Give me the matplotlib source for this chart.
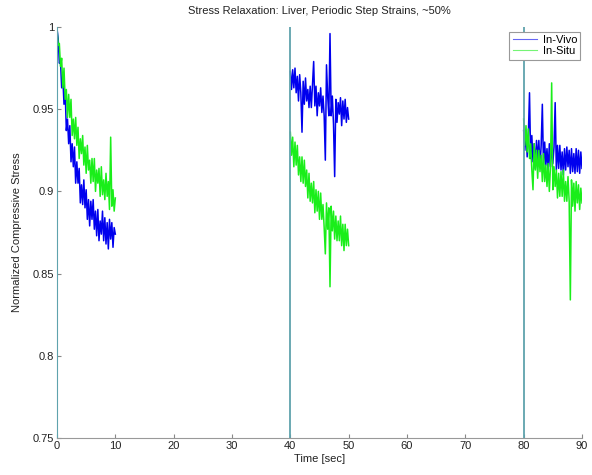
import matplotlib
matplotlib.use("Agg")
import matplotlib.pyplot as plt
import numpy as np

plt.rcParams["font.family"] = ["Liberation Sans", "DejaVu Sans"]
plt.rcParams["font.size"] = 8

DT = 0.2

# Step 1 (0-10 s)
vivo_1 = [0.999, 0.993, 0.978, 0.979, 0.963, 0.969, 0.953, 0.961, 0.937, 0.944,
          0.929, 0.940, 0.918, 0.929, 0.915, 0.927, 0.905, 0.918, 0.905, 0.914,
          0.893, 0.904, 0.892, 0.907, 0.890, 0.901, 0.883, 0.895, 0.879, 0.894,
          0.883, 0.895, 0.877, 0.888, 0.873, 0.889, 0.870, 0.882, 0.874, 0.888,
          0.870, 0.884, 0.868, 0.881, 0.865, 0.883, 0.871, 0.881, 0.866, 0.878,
          0.874]
situ_1 = [0.999, 0.989, 0.990, 0.976, 0.981, 0.963, 0.975, 0.956, 0.962, 0.945,
          0.959, 0.945, 0.956, 0.934, 0.944, 0.932, 0.945, 0.928, 0.939, 0.920,
          0.932, 0.923, 0.934, 0.916, 0.927, 0.911, 0.928, 0.913, 0.919, 0.905,
          0.920, 0.906, 0.920, 0.900, 0.913, 0.905, 0.914, 0.897, 0.915, 0.898,
          0.907, 0.895, 0.911, 0.897, 0.906, 0.889, 0.933, 0.891, 0.901, 0.888,
          0.896]

# Step 2 (40-50 s)
vivo_2 = [0.973, 0.962, 0.974, 0.963, 0.975, 0.960, 0.970, 0.955, 0.971, 0.960,
          0.936, 0.967, 0.953, 0.969, 0.955, 0.962, 0.951, 0.964, 0.951, 0.965,
          0.979, 0.952, 0.964, 0.946, 0.960, 0.952, 0.963, 0.948, 0.958, 0.946,
          0.919, 0.977, 0.958, 0.946, 0.996, 0.946, 0.958, 0.941, 0.909, 0.956,
          0.942, 0.954, 0.947, 0.957, 0.940, 0.955, 0.944, 0.956, 0.942, 0.951,
          0.944]
situ_2 = [0.936, 0.922, 0.933, 0.915, 0.930, 0.916, 0.928, 0.910, 0.921, 0.906,
          0.921, 0.905, 0.919, 0.903, 0.913, 0.896, 0.911, 0.894, 0.905, 0.893,
          0.906, 0.887, 0.901, 0.888, 0.900, 0.883, 0.899, 0.883, 0.892, 0.878,
          0.862, 0.893, 0.877, 0.890, 0.842, 0.891, 0.876, 0.888, 0.871, 0.885,
          0.870, 0.882, 0.870, 0.885, 0.867, 0.880, 0.864, 0.880, 0.867, 0.877,
          0.867]

# Step 3 (80-90 s)
vivo_3 = [0.937, 0.925, 0.937, 0.921, 0.934, 0.960, 0.920, 0.934, 0.918, 0.929,
          0.914, 0.931, 0.919, 0.931, 0.915, 0.928, 0.953, 0.915, 0.930, 0.916,
          0.926, 0.912, 0.929, 0.915, 0.930, 0.917, 0.927, 0.954, 0.913, 0.928,
          0.914, 0.928, 0.913, 0.924, 0.910, 0.926, 0.913, 0.927, 0.915, 0.925,
          0.911, 0.926, 0.912, 0.923, 0.911, 0.926, 0.912, 0.925, 0.911, 0.924,
          0.914]
situ_3 = [0.944, 0.928, 0.940, 0.924, 0.938, 0.920, 0.929, 0.913, 0.901, 0.929,
          0.913, 0.925, 0.908, 0.925, 0.912, 0.922, 0.906, 0.923, 0.906, 0.916,
          0.903, 0.917, 0.900, 0.915, 0.966, 0.901, 0.915, 0.903, 0.913, 0.896,
          0.911, 0.897, 0.912, 0.897, 0.913, 0.894, 0.906, 0.894, 0.909, 0.894,
          0.834, 0.907, 0.891, 0.905, 0.888, 0.906, 0.893, 0.904, 0.889, 0.902,
          0.893]

step_starts = [0, 40, 80]
vivo_segments = [vivo_1, vivo_2, vivo_3]
situ_segments = [situ_1, situ_2, situ_3]

BLUE = "#0000ee"
GREEN = "#1aee1a"
TEAL = "#5fa3ad"

fig = plt.figure(figsize=(5.92, 4.75), dpi=100)
ax = fig.add_axes([57 / 592, 37 / 475, 525 / 592, 411 / 475])

for i, (t0, seg) in enumerate(zip(step_starts, vivo_segments)):
    t = t0 + np.arange(len(seg)) * DT
    ax.plot(t, seg, color=BLUE, linewidth=1.1, label="In-Vivo" if i == 0 else None)
for i, (t0, seg) in enumerate(zip(step_starts, situ_segments)):
    t = t0 + np.arange(len(seg)) * DT
    ax.plot(t, seg, color=GREEN, linewidth=1.1, label="In-Situ" if i == 0 else None)

# strain step onsets
for t0 in step_starts:
    ax.axvline(t0, color=TEAL, linewidth=1.3, zorder=3)

ax.set_xlim(0, 90)
ax.set_ylim(0.75, 1.0)
ax.set_xticks(np.arange(0, 91, 10))
ax.set_yticks([0.75, 0.8, 0.85, 0.9, 0.95, 1.0])
ax.set_yticklabels(["0.75", "0.8", "0.85", "0.9", "0.95", "1"])
ax.tick_params(direction="in", length=3, color="#888888", labelcolor="#222222",
               labelsize=8, pad=2)

for side in ("top", "right"):
    ax.spines[side].set_visible(False)
ax.spines["bottom"].set_color("#999999")
ax.spines["left"].set_color(TEAL)

ax.set_title("Stress Relaxation: Liver, Periodic Step Strains, ~50%", fontsize=8,
             color="#222222", pad=9)
ax.set_xlabel("Time [sec]", fontsize=8, color="#222222", labelpad=2)
ax.set_ylabel("Normalized Compressive Stress", fontsize=8, color="#222222", labelpad=8)

leg = ax.legend(loc="upper right", bbox_to_anchor=(0.997, 0.988), fontsize=8,
                fancybox=False, edgecolor="#999999", framealpha=1,
                handlelength=2.2, borderpad=0.3, labelspacing=0.1,
                handletextpad=0.5, borderaxespad=0)
leg.get_frame().set_linewidth(0.8)
for line in leg.get_lines():
    line.set_linewidth(0.8)
    line.set_alpha(0.6)
leg.set_zorder(5)

fig.savefig("out.png", dpi=100)
